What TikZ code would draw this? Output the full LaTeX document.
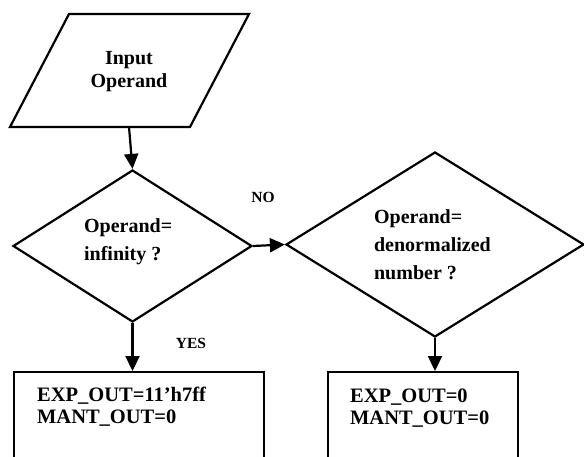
\documentclass[tikz,border=0pt]{standalone}
\usepackage{fontspec}
\setmainfont{Liberation Serif}
\usetikzlibrary{arrows.meta,shapes.geometric}
\begin{document}
\begin{tikzpicture}[x=1pt,y=-1pt,
  line width=2.2pt,
  flow/.style={-{Triangle[length=15pt,width=14pt]}, line width=2.2pt},
  dia/.style={draw, diamond, inner sep=0pt, line width=2.2pt},
  boxx/.style={draw, rectangle, inner sep=0pt, line width=2.2pt, anchor=north},
  txtA/.style={font=\bfseries\fontsize{20}{23}\selectfont, align=center, inner sep=0pt},
  txtB/.style={font=\bfseries\fontsize{20}{28}\selectfont, align=left, inner sep=0pt, anchor=west},
  txtC/.style={font=\bfseries\fontsize{20.5}{22}\selectfont, align=left, inner sep=0pt, anchor=west},
  lbl/.style={font=\bfseries\fontsize{15.5}{18}\selectfont, inner sep=0pt}]
\useasboundingbox (0,0) rectangle (584,457);
% input parallelogram
\draw[line join=miter] (69,14) -- (249,14) -- (190,127) -- (10,127) -- cycle;
\coordinate (inb) at (129,127);
\node[txtA] (t0) at (129,71.5) {Input\\Operand};
% decisions
\node[dia, minimum width=239pt, minimum height=152pt] (d1) at (132.5,246) {};
\node[dia, minimum width=298pt, minimum height=185pt] (d2) at (435,244.5) {};
\node[txtB] (t1) at (83,242) {Operand=\\infinity ?};
\node[txtB] (t2) at (373,245) {Operand=\\denormalized\\number ?};
% boxes
\node[boxx, minimum width=250pt, minimum height=120pt] (b1) at (139,371) {};
\node[boxx, minimum width=190pt, minimum height=120pt] (b2) at (423,371) {};
\node[txtC] (t3) at (36,407) {EXP\_OUT=11’h7ff\\MANT\_OUT=0};
\node[txtC] (t4) at (349,408) {EXP\_OUT=0\\MANT\_OUT=0};
% connectors
\draw[flow] (inb) -- (d1.north);
\draw[flow] (d1.east) -- (d2.west);
\draw[flow] (d1.south) -- (d1.south |- b1.north);
\draw[flow] (d2.south) -- (d2.south |- b2.north);
% labels
\node[lbl] (no) at (263,197) {NO};
\node[lbl] (yes) at (191,343) {YES};
\end{tikzpicture}
\end{document}
